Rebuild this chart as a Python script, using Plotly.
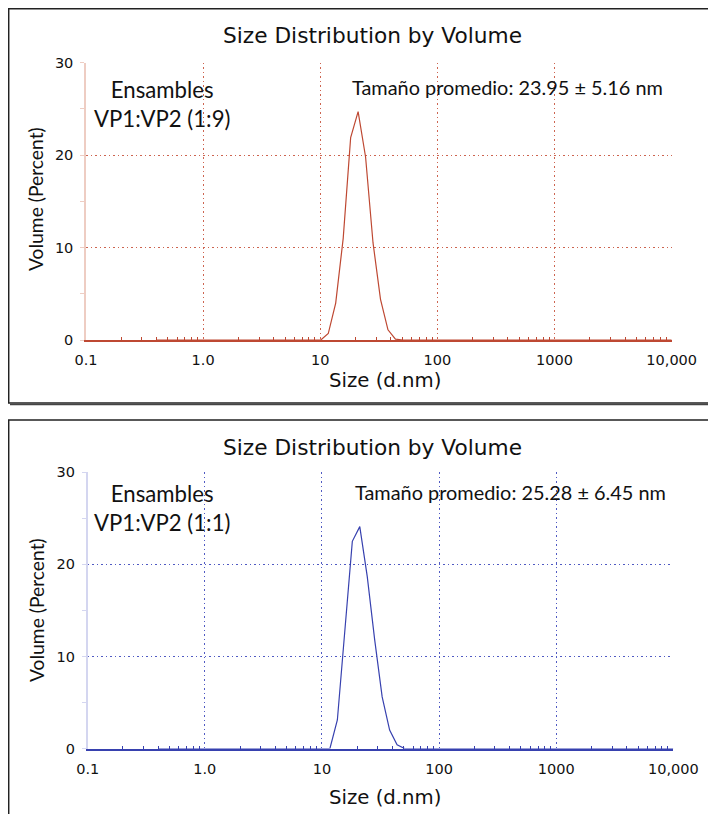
import plotly.graph_objects as go

# the page puts the figure 8 px in from the top-left corner
OFF = 8
W, H = 716 - OFF, 814 - OFF

# Size bins (d.nm) – standard DLS log-spaced classes
sizes = [0.4, 0.4632, 0.5365, 0.6213, 0.7195, 0.8332, 0.9649, 1.117, 1.294, 1.499,
         1.736, 2.010, 2.328, 2.696, 3.122, 3.615, 4.187, 4.849, 5.615, 6.503,
         7.531, 8.721, 10.10, 11.70, 13.54, 15.69, 18.17, 21.04, 24.36, 28.21,
         32.67, 37.84, 43.82, 50.75, 58.77, 68.06, 78.82, 91.28, 105.7, 122.4,
         141.8, 164.2, 190.1, 220.2, 255.0, 295.3, 342.0, 396.1, 458.7, 531.2,
         615.1, 712.4, 825.0, 955.4, 1106, 1281, 1484, 1718, 1990, 2305,
         2669, 3091, 3580, 4145, 4801, 5560, 6439, 7456, 8635, 10000]

# Volume (%) – top sample VP1:VP2 (1:9)
vol_19 = [0]*22 + [0.0, 0.7, 4.0, 11.0, 21.9, 24.7, 19.8, 10.5, 4.4, 1.1, 0.1, 0.0] + [0]*36
# Volume (%) – bottom sample VP1:VP2 (1:1)
vol_11 = [0]*22 + [0.0, 0.0, 3.1, 12.5, 22.5, 24.1, 18.7, 11.8, 5.6, 2.0, 0.4, 0.0] + [0]*36

x_tickvals = [0.1, 1, 10, 100, 1000, 10000]
x_ticktext = ["0.1", "1.0", "10", "100", "1000", "10,000"]
y_tickvals = [0, 10, 20, 30]
minor_x = [m * 10**e for e in range(-1, 4) for m in range(2, 10)]
minor_y = [5, 15, 25]

title = "Size Distribution by Volume"
xtitle = "Size (d.nm)"
ytitle = "Volume (Percent)"
labels = ["Ensambles<br>VP1:VP2 (1:9)", "Ensambles<br>VP1:VP2 (1:1)"]
means = ["Tamaño promedio: 23.95 ± 5.16 nm", "Tamaño promedio: 25.28 ± 6.45 nm"]

TF = "DejaVu Sans"
CF = "Lato"

def px(x):
    return (x - OFF) / W

def py(y):
    return 1 - (y - OFF) / H

DOT = "1.5px,3px"

panels = [
    dict(vol=vol_19, line="rgb(190,72,50)", axis="rgb(190,72,50)", yline="rgb(238,205,195)",
         grid="rgb(205,100,80)", x0=86, x1=671.7, y0=340, y1=62.7),
    dict(vol=vol_11, line="rgb(55,65,175)", axis="rgb(55,65,175)", yline="rgb(212,214,240)",
         grid="rgb(80,90,195)", x0=87.7, x1=673.3, y0=748.5, y1=472.3),
]

fig = go.Figure()
layout = dict(width=W, height=H, margin=dict(l=0, r=0, t=0, b=0, pad=0, autoexpand=False),
              paper_bgcolor="white", plot_bgcolor="white", showlegend=False)
annotations = []
shapes = []

for i, p in enumerate(panels):
    sfx = "" if i == 0 else str(i + 1)
    fig.add_trace(go.Scatter(x=sizes, y=p["vol"], mode="lines",
                             line=dict(color=p["line"], width=1.2),
                             xaxis="x" + sfx, yaxis="y" + sfx, hoverinfo="skip"))
    layout["xaxis" + sfx] = dict(
        type="log", range=[-1, 4], domain=[px(p["x0"]), px(p["x1"])], anchor="y" + sfx,
        tickmode="array", tickvals=x_tickvals, ticktext=x_ticktext,
        ticks="", showgrid=True, gridcolor=p["grid"], griddash=DOT, gridwidth=1,
        showline=True, linecolor=p["axis"], linewidth=1.5, zeroline=False,
        tickfont=dict(family=TF, size=14.5, color="#111"), ticklabelstandoff=6,
        minor=dict(tickmode="array", tickvals=minor_x, ticks="inside", ticklen=3,
                   tickcolor=p["axis"], tickwidth=1, showgrid=False),
        fixedrange=True, automargin=False,
    )
    layout["yaxis" + sfx] = dict(
        range=[0, 30], domain=[py(p["y0"]), py(p["y1"])], anchor="x" + sfx,
        tickmode="array", tickvals=y_tickvals, ticks="outside", ticklen=4,
        tickcolor=p["yline"], showgrid=True, gridcolor=p["grid"], griddash=DOT,
        gridwidth=1, showline=True, linecolor=p["yline"], linewidth=1.5, zeroline=False,
        tickfont=dict(family=TF, size=14.5, color="#111"), ticklabelstandoff=4,
        minor=dict(tickmode="array", tickvals=minor_y, ticks="outside", ticklen=4,
                   tickcolor=p["yline"], tickwidth=1, showgrid=False),
        fixedrange=True, automargin=False,
    )
    annotations += [
        dict(text=title, x=px(372), y=py(36 if i == 0 else 447), xref="paper", yref="paper",
             showarrow=False, xanchor="center", yanchor="middle",
             font=dict(family=TF, size=21.7, color="#111")),
        dict(text=xtitle, x=px(385), y=py(380 if i == 0 else 797), xref="paper",
             yref="paper", showarrow=False, xanchor="center", yanchor="middle",
             font=dict(family=TF, size=19.7, color="#111")),
        dict(text=ytitle, x=px(36), y=py(199 if i == 0 else 610), xref="paper",
             yref="paper", showarrow=False, xanchor="center", yanchor="middle",
             textangle=-90, font=dict(family=CF, size=19.3, color="#111")),
        dict(text=labels[i], x=px(162), y=py(104 if i == 0 else 508), xref="paper",
             yref="paper", showarrow=False, xanchor="center", yanchor="middle",
             align="center", font=dict(family=CF, size=22.2, color="#111")),
        dict(text=means[i], x=px(665 if i == 0 else 668), y=py(87 if i == 0 else 492),
             xref="paper", yref="paper", showarrow=False, xanchor="right",
             yanchor="middle", font=dict(family=CF, size=19.9, color="#111")),
    ]

# panel frames
shapes += [
    dict(type="rect", xref="paper", yref="paper", x0=px(8.7), x1=px(730), y0=py(403),
         y1=py(8.7), line=dict(color="#222", width=1.5), layer="below"),
    dict(type="line", xref="paper", yref="paper", x0=px(10), x1=px(730), y0=py(404.5),
         y1=py(404.5), line=dict(color="#444", width=1.5)),
    dict(type="rect", xref="paper", yref="paper", x0=px(8.7), x1=px(730), y0=py(830),
         y1=py(420), line=dict(color="#222", width=1.5), layer="below"),
]

layout["annotations"] = annotations
layout["shapes"] = shapes
fig.update_layout(**layout)
fig.write_html("out.html")
